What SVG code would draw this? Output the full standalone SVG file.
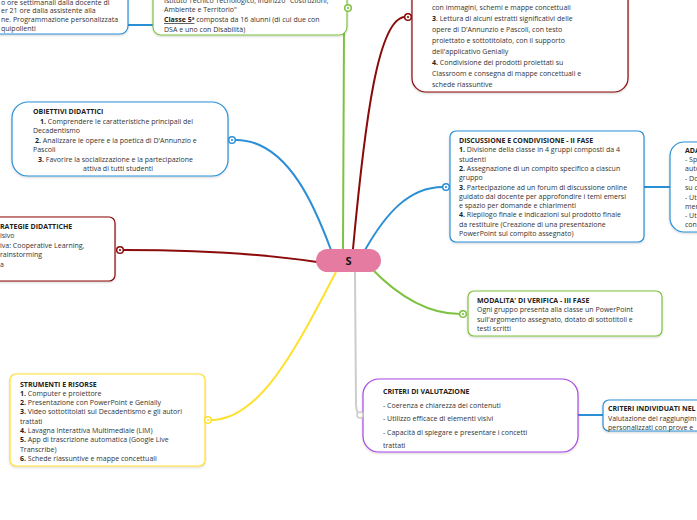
<svg xmlns="http://www.w3.org/2000/svg" width="697" height="520" viewBox="0 0 697 520">
<defs>
<filter id="sh" x="-10%" y="-10%" width="120%" height="130%">
<feDropShadow dx="0" dy="1" stdDeviation="1" flood-color="#000" flood-opacity="0.18"/>
</filter>
</defs>
<style>
text{font-family:"Open Sans","Noto Sans","DejaVu Sans",sans-serif;font-size:7px;fill:#333}
.t{font-weight:bold;fill:#222}
.b{font-weight:bold;fill:#222}
.lg{font-size:7px}
.box{fill:#fff;stroke-width:1.2;filter:url(#sh)}
.con{fill:none;stroke-width:2}
.ring{fill:#fff;stroke-width:1.5}
</style>
<rect width="697" height="520" fill="#fff"/>

<g id="connectors">
<path class="con" stroke="#2b8fd6" d="M236,140 C290,140 318,215 331,250"/>
<path class="con" stroke="#8b0a0a" d="M124,250 C200,250 270,255 317,262"/>
<path class="con" stroke="#7fc241" d="M343,249 L344,28 Q345,10 348,10"/>
<path class="con" stroke="#8b0a0a" d="M353,249 C365,120 378,18 405,17"/>
<path class="con" stroke="#2b8fd6" d="M365,250 C385,215 408,187 443,187"/>
<path class="con" stroke="#2b8fd6" d="M644,187 L670,187"/>
<path class="con" stroke="#7fc241" d="M371,268 C398,296 428,314 460,314"/>
<path class="con" stroke="#ffe02e" d="M336,272 C300,340 262,420 211,420"/>
<path class="con" stroke="#cccccc" d="M355,272 L356,405 Q357,415 360,415"/>
<path class="con" stroke="#2b8fd6" d="M578,415 L603,415"/>
<path class="con" stroke="#2b8fd6" d="M128,25 L153,25"/>
</g>

<g id="node-topleft">
<rect class="box" x="-20" y="-20" width="148" height="54" rx="8" stroke="#2b8fd6"/>
<text x="1" y="4.5">o ore settimanali dalla docente di</text>
<text x="1" y="13">er 21 ore dalla assistente alla</text>
<text x="1" y="22">ne. Programmazione personalizzata</text>
<text x="1" y="31">quipollenti</text>
</g>

<g id="node-classe">
<rect class="box" x="153" y="-20" width="194" height="55" rx="8" stroke="#7fc241"/>
<text x="164" y="3">Istituto Tecnico Tecnologico, indirizzo "Costruzioni,</text>
<text x="164" y="12">Ambiente e Territorio"</text>
<text x="164" y="22"><tspan class="b" text-decoration="underline">Classe 5ª</tspan> composta da 16 alunni (di cui due con</text>
<text x="164" y="32">DSA e uno con Disabilità)</text>
<circle class="ring" cx="348" cy="8" r="3.3" stroke="#7fc241"/>
<circle cx="348" cy="8" r="1.1" fill="#7fc241"/>
</g>

<g id="node-fasi">
<rect class="box" x="412" y="-30" width="216" height="122" rx="14" stroke="#8b0a0a"/>
<text class="lg" x="432" y="9.5">con immagini, schemi e mappe concettuali</text>
<text class="lg" x="432" y="20.5"><tspan class="b">3</tspan>. Lettura di alcuni estratti significativi delle</text>
<text class="lg" x="432" y="31.5">opere di D'Annunzio e Pascoli, con testo</text>
<text class="lg" x="432" y="42.5">proiettato e sottotitolato, con il supporto</text>
<text class="lg" x="432" y="53.5">dell'applicativo Genially</text>
<text class="lg" x="432" y="64.5"><tspan class="b">4.</tspan> Condivisione dei prodotti proiettati su</text>
<text class="lg" x="432" y="75.5">Classroom e consegna di mappe concettuali e</text>
<text class="lg" x="432" y="86.5">schede riassuntive</text>
<circle class="ring" cx="408" cy="17" r="3.3" stroke="#8b0a0a"/>
<circle cx="408" cy="17" r="1.1" fill="#8b0a0a"/>
</g>

<g id="node-obiettivi">
<rect class="box" x="12" y="102" width="216" height="74" rx="16" stroke="#2b8fd6"/>
<text class="t" x="33" y="113.5">OBIETTIVI DIDATTICI</text>
<text x="40" y="123.5"><tspan class="b">1.</tspan> Comprendere le caratteristiche principali del</text>
<text x="33" y="133">Decadentismo</text>
<text x="35" y="142.5"><tspan class="b">2.</tspan> Analizzare le opere e la poetica di D'Annunzio e</text>
<text x="33" y="152">Pascoli</text>
<text x="38" y="161.5"><tspan class="b">3.</tspan> Favorire la socializzazione e la partecipazione</text>
<text x="83" y="171">attiva di tutti studenti</text>
<circle class="ring" cx="232" cy="140" r="3.3" stroke="#2b8fd6"/>
<circle cx="232" cy="140" r="1.1" fill="#2b8fd6"/>
</g>

<g id="node-strategie">
<rect class="box" x="-20" y="217" width="135" height="64" rx="6" stroke="#8b0a0a"/>
<text class="t" x="0" y="228.5">RATEGIE DIDATTICHE</text>
<text x="0" y="238">isivo</text>
<text x="0" y="247.5">iva: Cooperative Learning,</text>
<text x="0" y="257">rainstorming</text>
<text x="0" y="266.5">a</text>
<circle class="ring" cx="120" cy="250" r="3.3" stroke="#8b0a0a"/>
<circle cx="120" cy="250" r="1.1" fill="#8b0a0a"/>
</g>

<g id="node-discussione">
<rect class="box" x="450" y="131" width="194" height="111" rx="6" stroke="#2b8fd6"/>
<text class="t" x="459" y="143">DISCUSSIONE E CONDIVISIONE - II FASE</text>
<text x="459" y="152.3"><tspan class="b">1.</tspan> Divisione della classe in 4 gruppi composti da 4</text>
<text x="459" y="161.6">studenti</text>
<text x="459" y="170.9"><tspan class="b">2.</tspan> Assegnazione di un compito specifico a ciascun</text>
<text x="459" y="180.2">gruppo</text>
<text x="459" y="189.5"><tspan class="b">3.</tspan> Partecipazione ad un forum di discussione online</text>
<text x="459" y="198.8">guidato dal docente per approfondire i temi emersi</text>
<text x="459" y="208.1">e spazio per domande e chiarimenti</text>
<text x="459" y="217.4"><tspan class="b">4.</tspan> Riepilogo finale e indicazioni sul prodotto finale</text>
<text x="459" y="226.7">da restituire (Creazione di una presentazione</text>
<text x="459" y="236">PowerPoint sul compito assegnato)</text>
<circle class="ring" cx="446" cy="187" r="3.3" stroke="#2b8fd6"/>
<circle cx="446" cy="187" r="1.1" fill="#2b8fd6"/>
</g>

<g id="node-ada">
<rect class="box" x="670" y="142" width="60" height="90" rx="14" stroke="#2b8fd6"/>
<text class="t" x="685" y="152.5">ADA</text>
<text x="685" y="162">- Sp</text>
<text x="685" y="171">auto</text>
<text x="685" y="181">- Do</text>
<text x="685" y="190">su c</text>
<text x="685" y="199.5">- Ut</text>
<text x="685" y="208.5">men</text>
<text x="685" y="217.5">- Ut</text>
<text x="685" y="226.5">con</text>
</g>

<g id="node-modalita">
<rect class="box" x="468" y="291" width="194" height="45" rx="6" stroke="#7fc241"/>
<text class="t" x="477" y="302.5">MODALITA' DI VERIFICA - III FASE</text>
<text x="477" y="312.3">Ogni gruppo presenta alla classe un PowerPoint</text>
<text x="477" y="321.6">sull'argomento assegnato, dotato di sottotitoli e</text>
<text x="477" y="330.9">testi scritti</text>
<circle class="ring" cx="463" cy="314" r="3.3" stroke="#7fc241"/>
<circle cx="463" cy="314" r="1.1" fill="#7fc241"/>
</g>

<g id="node-strumenti">
<rect class="box" x="10" y="374" width="195" height="92" rx="6" stroke="#ffe02e"/>
<text class="t" x="20" y="386.5">STRUMENTI E RISORSE</text>
<text x="20" y="395.8"><tspan class="b">1.</tspan> Computer e proiettore</text>
<text x="20" y="405.1"><tspan class="b">2.</tspan> Presentazione con PowerPoint e Genially</text>
<text x="20" y="414.4"><tspan class="b">3.</tspan> Video sottotitolati sul Decadentismo e gli autori</text>
<text x="20" y="423.7">trattati</text>
<text x="20" y="433"><tspan class="b">4.</tspan> Lavagna Interattiva Multimediale (LIM)</text>
<text x="20" y="442.3"><tspan class="b">5.</tspan> App di trascrizione automatica (Google Live</text>
<text x="20" y="451.6">Transcribe)</text>
<text x="20" y="461.2"><tspan class="b">6.</tspan> Schede riassuntive e mappe concettuali</text>
<circle class="ring" cx="208" cy="420" r="3.3" stroke="#ffe02e"/>
<circle cx="208" cy="420" r="1.1" fill="#ffe02e"/>
</g>

<g id="node-criteri">
<rect class="box" x="363" y="379" width="215" height="73" rx="16" stroke="#a846e6"/>
<text class="t" x="383" y="393.5">CRITERI DI VALUTAZIONE</text>
<text x="383" y="407.5">- Coerenza e chiarezza dei contenuti</text>
<text x="383" y="421">- Utilizzo efficace di elementi visivi</text>
<text x="383" y="434.5">- Capacità di spiegare e presentare i concetti</text>
<text x="383" y="448">trattati</text>
<circle class="ring" cx="360" cy="415" r="3" stroke="#cccccc"/>
</g>

<g id="node-criteri-individuati">
<rect class="box" x="603" y="400" width="120" height="31" rx="6" stroke="#2b8fd6"/>
<text class="t" x="608" y="410.5">CRITERI INDIVIDUATI NEL</text>
<text x="608" y="420.5">Valutazione del raggiungim</text>
<text x="608" y="429.5">personalizzati con prove e</text>
</g>

<g id="node-center">
<rect x="316" y="249" width="65" height="23" rx="11.5" fill="#e57ba0"/>
<text x="348.5" y="265" text-anchor="middle" style="font-size:11px;font-weight:bold;fill:#111">S</text>
</g>
</svg>
